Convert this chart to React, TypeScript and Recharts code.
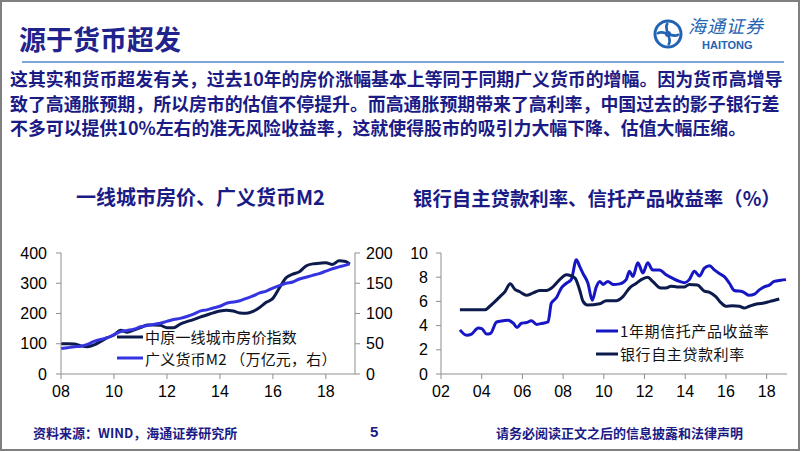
import React from 'react';
import { LineChart, Line, XAxis, YAxis, Legend } from 'recharts';

// 一线城市房价、广义货币M2 (quarterly)
const leftYears = [
  2008, 2008.25, 2008.5, 2008.75, 2009, 2009.25, 2009.5, 2009.75,
  2010, 2010.25, 2010.5, 2010.75, 2011, 2011.25, 2011.5, 2011.75,
  2012, 2012.25, 2012.5, 2012.75, 2013, 2013.25, 2013.5, 2013.75,
  2014, 2014.25, 2014.5, 2014.75, 2015, 2015.25, 2015.5, 2015.75,
  2016, 2016.25, 2016.5, 2016.75, 2017, 2017.25, 2017.5, 2017.75,
  2018, 2018.25, 2018.5, 2018.75, 2018.9,
];
const houseIndex = [
  100, 100, 99, 93, 90, 96, 108, 120,
  129, 145, 138, 145, 153, 162, 162, 161,
  153, 153, 165, 173, 180, 188, 195, 202,
  208, 211, 208, 202, 201, 207, 220, 237,
  250, 285, 318, 330, 338, 357, 364, 366,
  368, 362, 374, 372, 363,
];
const m2Values = [
  42, 43.5, 45, 46, 49, 54, 57, 60,
  65, 70, 72, 74, 78, 80, 82, 84,
  87, 90, 92, 95, 99, 104, 106, 109,
  112, 117, 119, 121, 125, 129, 134, 137,
  142, 146, 150, 152, 157, 160, 163, 166,
  170, 174, 177, 180, 182,
];
const leftTicks = [2008, 2010, 2012, 2014, 2016, 2018];
const leftTickLabels = ['08', '10', '12', '14', '16', '18'];

// 银行自主贷款利率、信托产品收益率
const trustYears = [
  2002.93, 2003.26, 2003.5, 2003.83, 2004.0, 2004.24, 2004.43, 2004.73,
  2005.06, 2005.3, 2005.55, 2005.74, 2005.95, 2006.2, 2006.44, 2006.7,
  2007.0, 2007.26, 2007.42, 2007.67, 2007.91, 2008.16, 2008.4, 2008.65,
  2008.81, 2008.98, 2009.22, 2009.43, 2009.63, 2009.8, 2009.96, 2010.2,
  2010.45, 2010.78, 2011.1, 2011.26, 2011.43, 2011.67, 2011.92, 2012.16,
  2012.4, 2012.73, 2013.06, 2013.39, 2013.72, 2013.96, 2014.2, 2014.45,
  2014.7, 2014.94, 2015.2, 2015.43, 2015.68, 2015.92, 2016.17, 2016.41,
  2016.82, 2017.15, 2017.4, 2017.64, 2017.88, 2018.13, 2018.37, 2018.7, 2018.95,
];
const trustRate = [
  3.65, 3.2, 3.3, 3.8, 3.75, 3.3, 3.35, 4.3,
  4.4, 4.45, 4.2, 3.85, 4.2, 4.25, 4.4, 4.1,
  4.2, 4.3, 5.85, 6.3, 7.1, 7.5, 7.8, 9.45,
  8.9, 8.3, 7.5, 6.1, 7.2, 7.65, 7.4, 7.65,
  7.4, 7.45, 7.8, 8.5, 8.05, 9.2, 8.35, 9.2,
  8.6, 8.6, 8.2, 7.9, 7.65, 7.55, 7.8, 8.5,
  8.1, 8.75, 8.95, 8.6, 8.3, 8.05, 7.5, 6.9,
  6.8, 6.5, 6.6, 6.95, 7.2, 7.35, 7.65, 7.75, 7.8,
];
const loanYears = [
  2002.93, 2004.16, 2004.4, 2004.9, 2005.14, 2005.4, 2005.63, 2005.87,
  2006.2, 2006.53, 2006.85, 2007.18, 2007.5, 2007.83, 2008.16, 2008.4,
  2008.6, 2008.82, 2008.98, 2009.2, 2009.8, 2010.12, 2010.6, 2010.94,
  2011.26, 2011.6, 2011.84, 2012.16, 2012.4, 2012.8, 2013.06, 2013.3,
  2013.6, 2013.96, 2014.2, 2014.6, 2014.94, 2015.2, 2015.5, 2015.75,
  2016.0, 2016.33, 2016.66, 2016.9, 2017.15, 2017.56, 2017.8, 2018.05,
  2018.3, 2018.62,
];
const loanRate = [
  5.3, 5.3, 5.6, 6.4, 6.8, 7.45, 7.0, 6.8,
  6.5, 6.7, 6.9, 6.9, 7.2, 7.8, 8.2, 8.1,
  7.9, 6.9, 6.0, 5.7, 5.8, 6.05, 6.05, 6.4,
  7.1, 7.5, 7.8, 8.0, 7.65, 7.1, 7.1, 7.25,
  7.2, 7.2, 7.4, 7.35, 6.85, 6.75, 6.4, 5.9,
  5.6, 5.65, 5.6, 5.45, 5.6, 5.8, 5.85, 5.95,
  6.05, 6.2,
];
const rightTicks = [2002, 2004, 2006, 2008, 2010, 2012, 2014, 2016, 2018];
const rightTickLabels = ['02', '04', '06', '08', '10', '12', '14', '16', '18'];

const NAVY = '#0c1a4c';
const BLUE_L = '#3434e0';
const BLUE_R = '#1616c4';
const TEXT_BLUE = '#1b1b86';
const AXIS = '#8f8f8f';
const sans = '"Liberation Sans", Arial, sans-serif';
const cjk = '"Noto Sans CJK SC", "Liberation Sans", sans-serif';

const leftData = leftYears.map((t, i) => ({ t, house: houseIndex[i], m2: m2Values[i] }));
const trustData = trustYears.map((t, i) => ({ t, v: trustRate[i] }));
const loanData = loanYears.map((t, i) => ({ t, v: loanRate[i] }));

const tickStyle = { fill: '#000', fontSize: 16, fontFamily: sans };

function legendContent(items: { label: string; color: string }[], sampleW: number, rowH: number, spacing: number) {
  return () => (
    <div>
      {items.map((it) => (
        <div key={it.label} style={{ display: 'flex', alignItems: 'center', height: rowH }}>
          <svg width={sampleW + 2} height={6}>
            <line x1={0} y1={3} x2={sampleW} y2={3} stroke={it.color} strokeWidth={3} />
          </svg>
          <span style={{ fontFamily: cjk, fontSize: 15, color: '#111', letterSpacing: spacing, whiteSpace: 'nowrap' }}>
            {it.label}
          </span>
        </div>
      ))}
    </div>
  );
}

function Logo() {
  return (
    <div style={{ position: 'absolute', left: 652, top: 14 }}>
      <svg width={34} height={34} style={{ position: 'absolute', left: 0, top: 4 }}>
        <circle cx={16} cy={16} r={13} fill="none" stroke="#2363b3" strokeWidth={3} />
        <path d="M16 5 C10 10 22 22 16 27 M5 16 C10 10 22 22 27 16" fill="none" stroke="#2363b3" strokeWidth={2.5} />
        <circle cx={16} cy={16} r={3} fill="#2363b3" />
      </svg>
      <div style={{ position: 'absolute', left: 36, top: 0, fontFamily: cjk, fontSize: 18, lineHeight: '22px', fontStyle: 'italic', color: '#2363b3', whiteSpace: 'nowrap', letterSpacing: 1 }}>
        海通证券
      </div>
      <div style={{ position: 'absolute', left: 50, top: 25, fontFamily: sans, fontSize: 11, lineHeight: '12px', fontWeight: 'bold', color: '#2363b3' }}>
        HAITONG
      </div>
    </div>
  );
}

export default function App() {
  const abs = (left: number, top: number, extra: React.CSSProperties = {}): React.CSSProperties => ({
    position: 'absolute', left, top, whiteSpace: 'nowrap', ...extra,
  });
  const bodyStyle: React.CSSProperties = { fontFamily: cjk, fontSize: 17.9, fontWeight: 'bold', color: TEXT_BLUE, lineHeight: '22px' };
  const footStyle: React.CSSProperties = { fontFamily: cjk, fontSize: 13, fontWeight: 'bold', color: TEXT_BLUE, lineHeight: '16px' };

  return (
    <div style={{ position: 'absolute', left: 0, top: 0, width: 802, height: 452, background: '#fff', overflow: 'hidden' }}>
      <div style={{ position: 'absolute', left: 0, top: 0, width: 800, height: 451, boxSizing: 'border-box', border: '2px solid #808080' }} />

      <div style={abs(19, 21, { fontFamily: cjk, fontSize: 27, fontWeight: 'bold', color: '#1f238c', lineHeight: '36px' })}>源于货币超发</div>
      <Logo />
      <div style={{ position: 'absolute', left: 22, top: 61, width: 762, height: 1.5, background: '#7ea7d8' }} />

      <div style={abs(10, 67, bodyStyle)}>这其实和货币超发有关，过去10年的房价涨幅基本上等同于同期广义货币的增幅。因为货币高增导</div>
      <div style={abs(10, 92, bodyStyle)}>致了高通胀预期，所以房市的估值不停提升。而高通胀预期带来了高利率，中国过去的影子银行差</div>
      <div style={abs(10, 116, bodyStyle)}>不多可以提供10%左右的准无风险收益率，这就使得股市的吸引力大幅下降、估值大幅压缩。</div>

      <div style={abs(76, 184, { fontFamily: cjk, fontSize: 20, fontWeight: 'bold', color: TEXT_BLUE, lineHeight: '26px' })}>一线城市房价、广义货币M2</div>
      <div style={abs(413, 185, { fontFamily: cjk, fontSize: 19.4, fontWeight: 'bold', color: TEXT_BLUE, lineHeight: '25px' })}>银行自主贷款利率、信托产品收益率（%）</div>

      <div style={{ position: 'absolute', left: 0, top: 240 }}>
        <LineChart width={400} height={170} data={leftData} margin={{ top: 13, right: 0, bottom: 0, left: 0 }}>
          <XAxis
            dataKey="t"
            type="number"
            domain={[2008, 2019.1]}
            ticks={leftTicks}
            tickFormatter={(v: number) => leftTickLabels[leftTicks.indexOf(v)]}
            height={36}
            stroke={AXIS}
            tickSize={5}
            tickMargin={7}
            tick={tickStyle}
          />
          <YAxis yAxisId="l" domain={[0, 400]} ticks={[0, 100, 200, 300, 400]} width={61} stroke={AXIS} tickSize={5} tickMargin={9} tick={tickStyle} />
          <YAxis yAxisId="r" orientation="right" domain={[0, 200]} ticks={[0, 50, 100, 150, 200]} width={45} stroke={AXIS} tickSize={5} tickMargin={6} tick={tickStyle} />
          <Line yAxisId="l" dataKey="house" type="monotone" stroke={NAVY} strokeWidth={3} dot={false} isAnimationActive={false} />
          <Line yAxisId="r" dataKey="m2" type="monotone" stroke={BLUE_L} strokeWidth={3} dot={false} isAnimationActive={false} />
          <Legend
            layout="vertical"
            align="center"
            verticalAlign="middle"
            wrapperStyle={{ left: 117, top: 86, width: 240, height: 44 }}
            content={legendContent(
              [
                { label: '中原一线城市房价指数', color: NAVY },
                { label: '广义货币M2 （万亿元，右）', color: BLUE_L },
              ],
              26, 21.6, 0.2,
            )}
          />
        </LineChart>
      </div>

      <div style={{ position: 'absolute', left: 400, top: 240 }}>
        <LineChart width={400} height={170} margin={{ top: 13, right: 13, bottom: 0, left: 0 }}>
          <XAxis
            dataKey="t"
            type="number"
            domain={[2002, 2019]}
            ticks={rightTicks}
            tickFormatter={(v: number) => rightTickLabels[rightTicks.indexOf(v)]}
            height={36}
            stroke={AXIS}
            tickSize={5}
            tickMargin={7}
            tick={tickStyle}
            allowDuplicatedCategory={false}
          />
          <YAxis domain={[0, 10]} ticks={[0, 2, 4, 6, 8, 10]} width={41} stroke={AXIS} tickSize={5} tickMargin={8} tick={tickStyle} />
          <Line data={trustData} dataKey="v" name="trust" type="monotone" stroke={BLUE_R} strokeWidth={3} dot={false} isAnimationActive={false} />
          <Line data={loanData} dataKey="v" name="loan" type="monotone" stroke={NAVY} strokeWidth={3} dot={false} isAnimationActive={false} />
          <Legend
            layout="vertical"
            align="center"
            verticalAlign="middle"
            wrapperStyle={{ left: 196, top: 79, width: 200, height: 46 }}
            content={legendContent(
              [
                { label: '1年期信托产品收益率', color: BLUE_R },
                { label: '银行自主贷款利率', color: NAVY },
              ],
              22, 23, 0.6,
            )}
          />
        </LineChart>
      </div>

      <div style={abs(33, 425, footStyle)}>资料来源：WIND，海通证券研究所</div>
      <div style={abs(370, 424, { ...footStyle, fontFamily: sans, fontSize: 15 })}>5</div>
      <div style={abs(496, 425, footStyle)}>请务必阅读正文之后的信息披露和法律声明</div>
    </div>
  );
}
